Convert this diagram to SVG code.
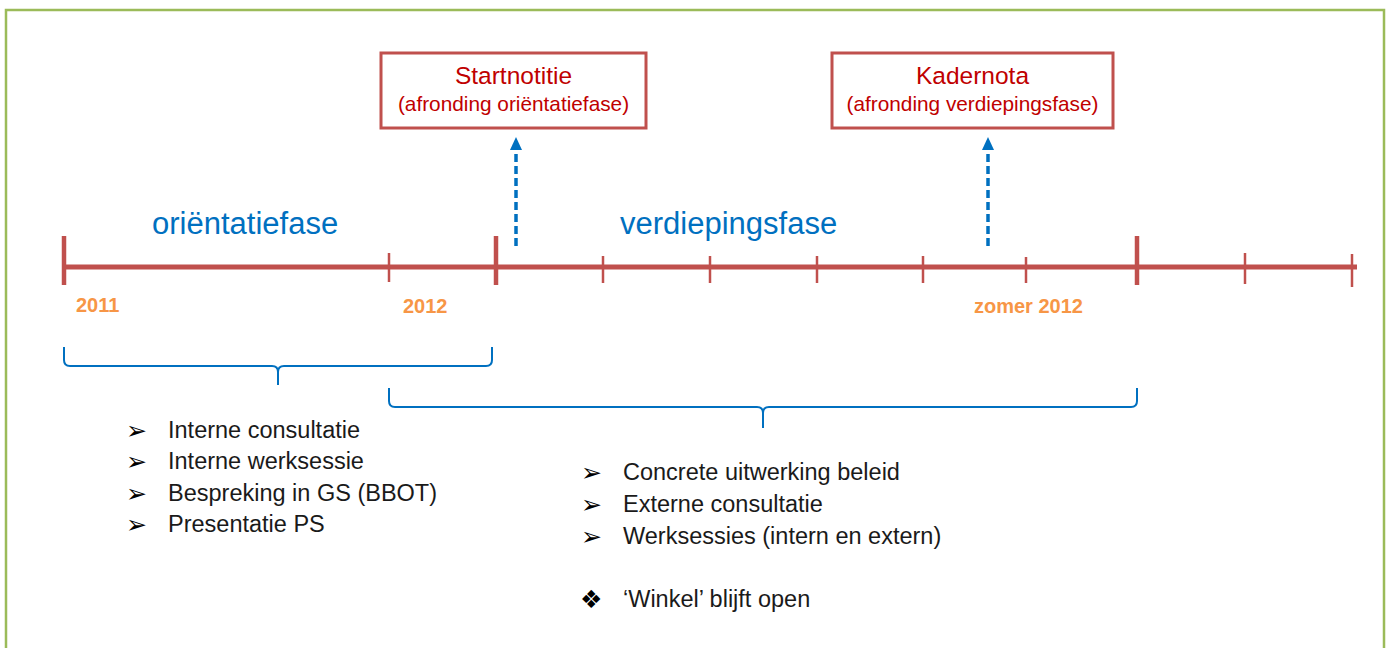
<svg xmlns="http://www.w3.org/2000/svg" width="1389" height="648" viewBox="0 0 1389 648">
<defs>
<style>
.frame{fill:none;stroke:#9BBB59;stroke-width:2.5}
.box{fill:#fff;stroke:#C0504D;stroke-width:3}
.boxt{font-family:"Liberation Sans",Arial,sans-serif;fill:#C00000;text-anchor:middle}
.phase{font-family:"Liberation Sans",Arial,sans-serif;fill:#0070C0;font-size:31px}
.year{font-family:"Liberation Sans",Arial,sans-serif;fill:#F79646;font-size:20px;font-weight:bold}
.axis{stroke:#C0504D;fill:none}
.brace{fill:none;stroke:#0070C0;stroke-width:2}
.dash{stroke:#0070C0;stroke-width:3.5;stroke-dasharray:8 4;fill:none}
.item{font-family:"Liberation Sans",Arial,sans-serif;fill:#1a1a1a;font-size:23.5px}
.bul{font-family:"DejaVu Sans",sans-serif;fill:#000;font-size:25px}
</style>
</defs>
<rect width="1389" height="648" fill="#fff"/>
<rect class="frame" x="6" y="10" width="1378" height="660"/>

<g id="timeline">
<line class="axis" x1="63" y1="267" x2="1357" y2="267" stroke-width="5"/>
<g stroke-width="4.5" class="axis">
<line x1="64" y1="236" x2="64" y2="285"/>
<line x1="496" y1="236" x2="496" y2="285"/>
<line x1="1137" y1="236" x2="1137" y2="285"/>
</g>
<g stroke-width="2.5" class="axis">
<line x1="389" y1="253" x2="389" y2="282"/>
<line x1="603" y1="256" x2="603" y2="283"/>
<line x1="710" y1="256" x2="710" y2="283"/>
<line x1="817" y1="256" x2="817" y2="283"/>
<line x1="923" y1="256" x2="923" y2="283"/>
<line x1="1026" y1="257" x2="1026" y2="283"/>
<line x1="1245" y1="253" x2="1245" y2="284"/>
<line x1="1352" y1="254" x2="1352" y2="287"/>
</g>
<text class="year" x="76" y="312">2011</text>
<text class="year" x="403" y="313">2012</text>
<text class="year" x="974" y="313">zomer 2012</text>
</g>

<g id="phase-orientatie">
<text class="phase" x="152" y="234">oriëntatiefase</text>
</g>
<g id="phase-verdieping">
<text class="phase" x="620" y="234">verdiepingsfase</text>
</g>

<g id="startnotitie">
<rect class="box" x="381" y="53" width="265" height="75"/>
<text class="boxt" x="513.5" y="84" font-size="24.5">Startnotitie</text>
<text class="boxt" x="513.5" y="111" font-size="20.8">(afronding oriëntatiefase)</text>
</g>
<g id="kadernota">
<rect class="box" x="832" y="53" width="281" height="75"/>
<text class="boxt" x="972.5" y="84" font-size="24.5">Kadernota</text>
<text class="boxt" x="972.5" y="111" font-size="20.8">(afronding verdiepingsfase)</text>
</g>

<g id="connectors">
<line class="dash" x1="516" y1="246" x2="516" y2="146"/>
<path d="M516,137 L522,150 L510,150 z" fill="#0070C0"/>
<line class="dash" x1="988" y1="246" x2="988" y2="146"/>
<path d="M988,137 L994,150 L982,150 z" fill="#0070C0"/>
</g>

<g id="brace-orientatie">
<path class="brace" d="M64,347 L64,360 Q64,366 70,366 L272,366 Q278,366 278,372 L278,385 M278,372 Q278,366 284,366 L486,366 Q492,366 492,360 L492,347"/>
</g>
<g id="brace-verdieping">
<path class="brace" d="M389,388 L389,401 Q389,407 395,407 L757,407 Q763,407 763,413 L763,428 M763,413 Q763,407 769,407 L1131,407 Q1137,407 1137,401 L1137,388"/>
</g>

<g id="list-orientatie">
<text class="bul" x="126" y="439">➢</text>
<text class="item" x="168" y="438">Interne consultatie</text>
<text class="bul" x="126" y="470">➢</text>
<text class="item" x="168" y="469">Interne werksessie</text>
<text class="bul" x="126" y="502">➢</text>
<text class="item" x="168" y="501">Bespreking in GS (BBOT)</text>
<text class="bul" x="126" y="533">➢</text>
<text class="item" x="168" y="532">Presentatie PS</text>
</g>

<g id="list-verdieping">
<text class="bul" x="581" y="481">➢</text>
<text class="item" x="623" y="480">Concrete uitwerking beleid</text>
<text class="bul" x="581" y="513">➢</text>
<text class="item" x="623" y="512">Externe consultatie</text>
<text class="bul" x="581" y="545">➢</text>
<text class="item" x="623" y="544">Werksessies (intern en extern)</text>
<text class="bul" x="580" y="608" font-size="24">❖</text>
<text class="item" x="623" y="607">‘Winkel’ blijft open</text>
</g>
</svg>
